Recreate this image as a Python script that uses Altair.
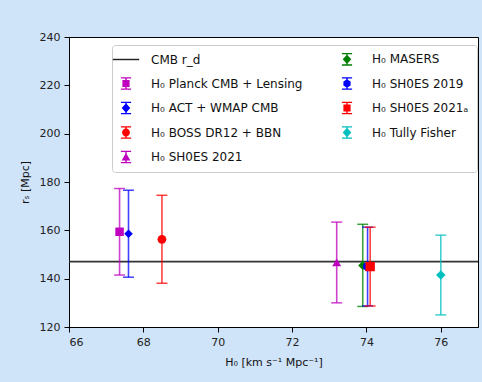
import altair as alt
import pandas as pd

# ---- data ----
series = [
    "H₀ Planck CMB + Lensing",
    "H₀ ACT + WMAP CMB",
    "H₀ BOSS DR12 + BBN",
    "H₀ SH0ES 2021",
    "H₀ MASERS",
    "H₀ SH0ES 2019",
    "H₀ SH0ES 2021ₐ",
    "H₀ Tully Fisher",
]
h0 = [67.36, 67.6, 68.5, 73.2, 73.9, 74.03, 74.1, 76.0]
rs = [159.4, 158.6, 156.3, 146.7, 145.5, 145.0, 145.0, 141.5]
rs_err = [17.9, 18.0, 18.2, 16.7, 17.0, 16.3, 16.3, 16.5]
colors = ["#bf00bf", "#0000ff", "#ff0000", "#bf00bf", "#008000", "#0000ff", "#ff0000", "#00bfbf"]
plot_shapes = ["square", "diamond", "circle", "triangle-up", "diamond", "circle", "square", "diamond"]
plot_sizes = [72, 90, 75, 70, 90, 70, 72, 90]

cmb_label = "CMB r_d"
cmb_rd = [147.09]

x_ticks = [66, 68, 70, 72, 74, 76]
y_ticks = [120, 140, 160, 180, 200, 220, 240]

# legend glyphs (marker + error bar), unit square coordinates
bar = "M-0.12,-1H0.12V1H-0.12Z M-0.85,-1.05H0.85V-0.83H-0.85Z M-0.85,0.83H0.85V1.05H-0.85Z"
glyph = {
    "square": "M-0.6,-0.6H0.6V0.6H-0.6Z",
    "diamond": "M0,-0.78L0.72,0L0,0.78L-0.72,0Z",
    "circle": "M-0.66,0A0.66,0.66 0 1,1 0.66,0A0.66,0.66 0 1,1 -0.66,0Z",
    "triangle-up": "M0,-0.72L0.72,0.58H-0.72Z",
    "hexagon": "M0,-0.7L0.6,-0.35L0.6,0.35L0,0.7L-0.6,0.35L-0.6,-0.35Z",
}
legend_glyph_kind = ["square", "diamond", "circle", "triangle-up", "diamond", "hexagon", "square", "diamond"]
line_glyph = "M-2.2,-0.12H2.2V0.12H-2.2Z"

# legend entries fill the two columns top to bottom
legend_order = [cmb_label] + series
legend_colors = ["#222222"] + colors
legend_paths = [line_glyph] + [bar + " " + glyph[k] for k in legend_glyph_kind]

df = pd.DataFrame({"series": series, "h0": h0, "rs": rs, "err": rs_err})
df["lo"] = df["rs"] - df["err"]
df["hi"] = df["rs"] + df["err"]
cmb_df = pd.DataFrame({"rd": cmb_rd})

FONT = "DejaVu Sans"

xscale = alt.Scale(domain=[66, 77], nice=False, zero=False)
yscale = alt.Scale(domain=[120, 240], nice=False, zero=False)

xaxis = alt.Axis(values=x_ticks, title="H₀ [km s⁻¹ Mpc⁻¹]", format="d")
yaxis = alt.Axis(values=y_ticks, title="rₛ [Mpc]", format="d")

color_err = alt.Color("series:N", scale=alt.Scale(domain=series, range=colors), legend=None)

base = alt.Chart(df)

cmb_line = alt.Chart(cmb_df).mark_rule(color="#333333", strokeWidth=1.8).encode(
    y=alt.Y("rd:Q", scale=yscale, axis=yaxis)
)

bars = base.mark_rule(strokeWidth=1.6, opacity=0.75).encode(
    x=alt.X("h0:Q", scale=xscale, axis=xaxis),
    y=alt.Y("lo:Q", scale=yscale, axis=yaxis),
    y2="hi:Q",
    color=color_err,
)

cap_lo = base.mark_tick(orient="horizontal", size=11, thickness=1.5, opacity=0.75).encode(
    x=alt.X("h0:Q", scale=xscale),
    y=alt.Y("lo:Q", scale=yscale),
    color=color_err,
)
cap_hi = base.mark_tick(orient="horizontal", size=11, thickness=1.5, opacity=0.75).encode(
    x=alt.X("h0:Q", scale=xscale),
    y=alt.Y("hi:Q", scale=yscale),
    color=color_err,
)

points = base.mark_point(filled=True, opacity=1, strokeWidth=0).encode(
    x=alt.X("h0:Q", scale=xscale),
    y=alt.Y("rs:Q", scale=yscale),
    color=alt.Color("series:N", scale=alt.Scale(domain=series, range=colors), legend=None),
    shape=alt.Shape("series:N", scale=alt.Scale(domain=series, range=plot_shapes), legend=None),
    size=alt.Size("series:N", scale=alt.Scale(domain=series, range=plot_sizes), legend=None),
)

leg = dict(
    title=None,
    orient="none",
    legendX=43,
    legendY=8,
    columns=2,
    symbolOpacity=1,
)

carrier = base.mark_point(filled=True, opacity=0).encode(
    x=alt.X("h0:Q", scale=xscale),
    y=alt.Y("rs:Q", scale=yscale),
    color=alt.Color("series:N", scale=alt.Scale(domain=legend_order, range=legend_colors),
                    legend=alt.Legend(**leg)),
    shape=alt.Shape("series:N", scale=alt.Scale(domain=legend_order, range=legend_paths),
                    legend=alt.Legend(**leg)),
)

chart = (
    alt.layer(cmb_line, bars, cap_lo, cap_hi, points, carrier)
    .resolve_scale(color="independent", shape="independent", size="independent")
    .properties(
        width=409,
        height=290,
        autosize=alt.AutoSizeParams(type="none"),
        padding={"left": 69, "top": 37, "right": 4, "bottom": 55},
        background="#cfe3f9",
    )
    .configure_view(fill="white", stroke="black", strokeWidth=1)
    .configure_axis(
        grid=False,
        domainColor="black",
        tickColor="black",
        tickSize=5,
        labelFont=FONT,
        labelFontSize=11,
        labelColor="#222222",
        labelPadding=4,
        titleFont=FONT,
        titleFontSize=11,
        titleFontWeight="normal",
        titleColor="#111111",
    )
    .configure_axisX(titlePadding=9)
    .configure_axisY(titlePadding=9)
    .configure_legend(
        labelFont=FONT,
        labelFontSize=12,
        labelColor="#111111",
        labelLimit=300,
        labelOffset=19,
        symbolSize=144,
        symbolStrokeWidth=0,
        padding=8,
        rowPadding=10.5,
        columnPadding=38,
        fillColor="white",
        strokeColor="#cccccc",
        cornerRadius=3,
    )
)

chart.save("out.html", embed_options={"renderer": "svg", "actions": False})
